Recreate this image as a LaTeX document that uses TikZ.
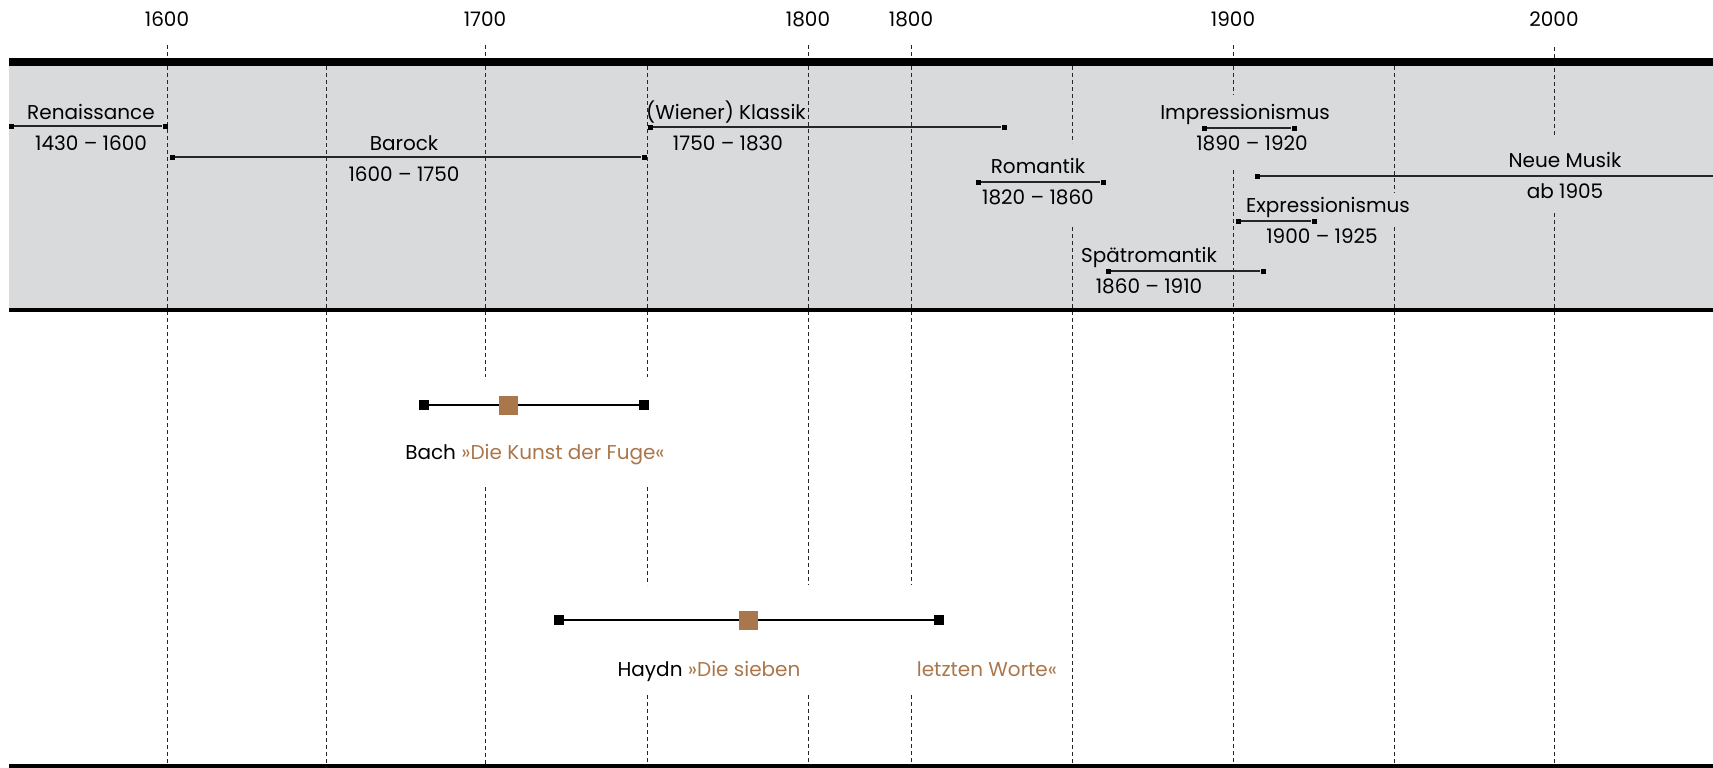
\documentclass[tikz,border=0pt]{standalone}
\usepackage{fontspec}
\setmainfont{Poppins}
\usepackage{tikz}
\definecolor{bandgray}{RGB}{217,218,220}
\definecolor{fugebrown}{RGB}{170,118,75}

\tikzset{
  lbl/.style={font=\fontsize{20}{24}\selectfont, inner sep=0pt, text height=14pt, text depth=0pt},
  gridline/.style={black!85, line width=1pt, dash pattern=on 4pt off 3pt},
  tick/.style={fill=black, inner sep=0pt, minimum size=5pt},
  period/.style={black!85, line width=1.3pt},
  workend/.style={fill=black, inner sep=0pt, minimum size=10pt},
  workmark/.style={fill=fugebrown, inner sep=0pt, minimum size=19pt},
  workline/.style={black, line width=2.6pt},
}

\begin{document}
\begin{tikzpicture}[x=1pt, y=-1pt]
  \useasboundingbox (0,0) rectangle (1713,768);

  % Band of the epochs
  \fill[bandgray] (9,66) rectangle (1713,308);

  % Year labels
  \foreach \x/\yr [count=\i] in {167/1600, 485/1700, 808/1800, 911/1800, 1233/1900, 1554/2000} {
    \node[lbl] (year\i) at (\x,20) {\yr};
  }

  % Dashed grid lines (with gaps around the labels)
  \foreach \x/\ya/\yb in {167/45/766, 326/66/766,
      485/45/377, 485/487/766,
      647/66/377, 647/487/585, 647/695/766,
      808/45/585, 808/695/766,
      911/45/585, 911/695/766,
      1072/66/143, 1072/227/766,
      1233/45/95, 1233/170/766,
      1394/66/193, 1394/227/766,
      1554/47/137, 1554/213/766} {
    \draw[gridline] (\x,\ya) -- (\x,\yb);
  }

  % Frame lines
  \draw[line width=8pt] (9,62) -- (1713,62);
  \draw[line width=4pt] (9,310) -- (1713,310);
  \draw[line width=4pt] (9,766) -- (1713,766);

  % Renaissance
  \node[tick] (ren-l) at (11,126) {};
  \node[tick] (ren-r) at (165,126) {};
  \draw[period] (ren-l) -- (ren-r);
  \node[lbl] (ren-name) at (91,112) {Renaissance};
  \node[lbl] (ren-years) at (91,143) {1430 – 1600};

  % Barock
  \node[tick] (bar-l) at (172,157) {};
  \node[tick] (bar-r) at (644,157) {};
  \draw[period] (bar-l) -- (bar-r);
  \node[lbl] (bar-name) at (404,143) {Barock};
  \node[lbl] (bar-years) at (404,174) {1600 – 1750};

  % Klassik
  \node[tick] (kla-l) at (650,127) {};
  \node[tick] (kla-r) at (1004,127) {};
  \draw[period] (kla-l) -- (kla-r);
  \node[lbl] (kla-name) at (726,112) {(Wiener) Klassik};
  \node[lbl] (kla-years) at (728,143) {1750 – 1830};

  % Romantik
  \node[tick] (rom-l) at (978,182) {};
  \node[tick] (rom-r) at (1103,182) {};
  \draw[period] (rom-l) -- (rom-r);
  \node[lbl] (rom-name) at (1038,166) {Romantik};
  \node[lbl] (rom-years) at (1038,197) {1820 – 1860};

  % Impressionismus
  \node[tick] (imp-l) at (1204,128) {};
  \node[tick] (imp-r) at (1294,128) {};
  \draw[period] (imp-l) -- (imp-r);
  \node[lbl] (imp-name) at (1245,112) {Impressionismus};
  \node[lbl] (imp-years) at (1252,143) {1890 – 1920};

  % Neue Musik
  \node[tick] (neu-l) at (1257,176) {};
  \coordinate (neu-r) at (1713,176);
  \draw[period] (neu-l) -- (neu-r);
  \node[lbl] (neu-name) at (1565,160) {Neue Musik};
  \node[lbl] (neu-years) at (1565,191) {ab 1905};

  % Expressionismus
  \node[tick] (exp-l) at (1238,221) {};
  \node[tick] (exp-r) at (1314,221) {};
  \draw[period] (exp-l) -- (exp-r);
  \node[lbl] (exp-name) at (1328,205) {Expressionismus};
  \node[lbl] (exp-years) at (1322,236) {1900 – 1925};

  % Spaetromantik
  \node[tick] (spa-l) at (1108,271) {};
  \node[tick] (spa-r) at (1263,271) {};
  \draw[period] (spa-l) -- (spa-r);
  \node[lbl] (spa-name) at (1149,255) {Spätromantik};
  \node[lbl] (spa-years) at (1149,286) {1860 – 1910};

  % Bach
  \node[workend] (bach-l) at (424,405) {};
  \node[workend] (bach-r) at (644,405) {};
  \draw[workline] (bach-l) -- (bach-r);
  \node[workmark] (bach-m) at (508,405) {};
  \node[lbl] (bach-txt) at (535,452) {Bach \textcolor{fugebrown}{»Die Kunst der Fuge«}};

  % Haydn
  \node[workend] (haydn-l) at (559,620) {};
  \node[workend] (haydn-r) at (939,620) {};
  \draw[workline] (haydn-l) -- (haydn-r);
  \node[workmark] (haydn-m) at (748,620) {};
  \node[lbl] (haydn-txt) at (709,669) {Haydn \textcolor{fugebrown}{»Die sieben}};
  \node[lbl, fugebrown] (haydn-txt2) at (987,669) {letzten Worte«};
\end{tikzpicture}
\end{document}
